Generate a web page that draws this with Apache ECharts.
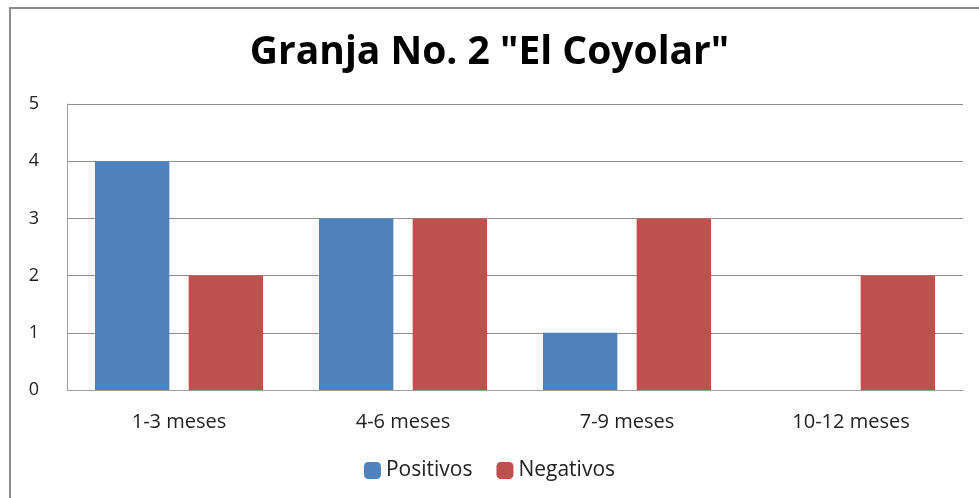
<!DOCTYPE html>
<html>
<head>
<meta charset="utf-8">
<script src="https://cdn.jsdelivr.net/npm/echarts@6/dist/echarts.min.js"></script>
<style>
  html, body { margin: 0; padding: 0; background: #fff; }
  #box { position: absolute; left: 9px; top: 7px; width: 975px; height: 500px; border: 2px solid #8c8c8c; box-sizing: border-box; }
  #chart { position: absolute; left: 0; top: 0; width: 979px; height: 498px; }
</style>
</head>
<body>
<div id="box"></div>
<div id="chart"></div>
<script>
// ---- datos ----
var categorias = ['1-3 meses', '4-6 meses', '7-9 meses', '10-12 meses'];
var positivos = [4, 3, 1, 0];
var negativos = [2, 3, 3, 2];
var ticksY = [0, 1, 2, 3, 4, 5];

var fuente = 'Open Sans';

var option = {
  backgroundColor: 'transparent',
  animation: false,
  title: {
    text: 'Granja No. 2 "El Coyolar"',
    left: 'center',
    top: 28,
    textStyle: { fontFamily: fuente, fontWeight: 'bold', fontSize: 39, color: '#000' }
  },
  legend: {
    bottom: 12,
    left: 'center',
    itemWidth: 17,
    itemHeight: 17,
    itemGap: 24,
    textStyle: { fontFamily: fuente, fontSize: 21, color: '#222' },
    data: ['Positivos', 'Negativos']
  },
  grid: { left: 67, right: 16, top: 104, bottom: 108, containLabel: false },
  xAxis: {
    type: 'category',
    data: categorias,
    axisLine: { lineStyle: { color: '#a0a0a0', width: 1 } },
    axisTick: { show: false },
    axisLabel: { fontFamily: fuente, fontSize: 20, color: '#222', margin: 22 }
  },
  yAxis: {
    type: 'value',
    min: ticksY[0],
    max: ticksY[ticksY.length - 1],
    interval: 1,
    axisLine: { show: true, lineStyle: { color: '#a0a0a0', width: 1 } },
    axisTick: { show: false },
    splitLine: { lineStyle: { color: '#909090', width: 1 } },
    axisLabel: { fontFamily: fuente, fontSize: 18, color: '#222', margin: 28 }
  },
  series: [
    {
      name: 'Positivos',
      type: 'bar',
      data: positivos,
      barGap: '26%',
      barCategoryGap: '25%',
      itemStyle: { color: '#4F81BD' }
    },
    {
      name: 'Negativos',
      type: 'bar',
      data: negativos,
      itemStyle: { color: '#C0504D' }
    }
  ]
};

echarts.init(document.getElementById('chart')).setOption(option);
</script>
</body>
</html>
